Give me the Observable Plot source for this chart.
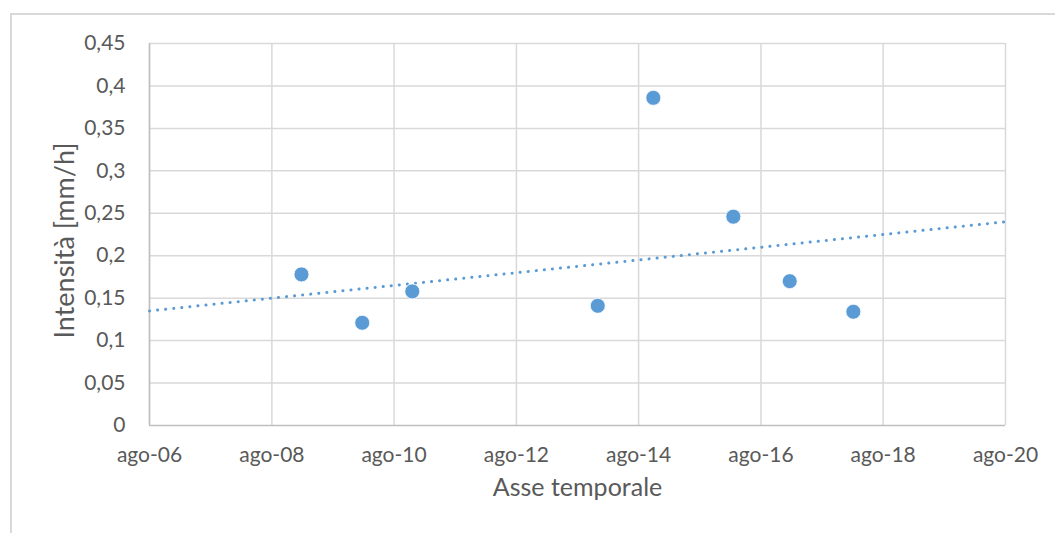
<!DOCTYPE html>
<html>
<head>
<meta charset="utf-8">
<script src="https://cdn.jsdelivr.net/npm/d3@7"></script>
<script src="https://cdn.jsdelivr.net/npm/@observablehq/plot@0.6"></script>
<style>
  html, body { margin: 0; padding: 0; background: #fff; }
  #wrap { position: relative; width: 1055px; height: 533px; overflow: hidden; }
  #border { position: absolute; left: 10px; top: 13px; width: 1060px; height: 560px; border: 2px solid #d9d9d9; box-sizing: border-box; }
  #chart { position: absolute; left: 0; top: 0; }
</style>
</head>
<body>
<div id="wrap"><div id="border"></div><div id="chart"></div></div>
<script>
// Observations (date of event, intensity mm/h)
const dates = ["2009-01-25", "2010-01-23", "2010-11-18", "2013-11-30", "2014-10-28", "2016-02-18", "2017-01-20", "2018-02-04"];
const intensities = [0.178, 0.121, 0.158, 0.141, 0.386, 0.246, 0.170, 0.134];

// Trend line endpoints
const trendDates = ["2006-08-01", "2020-08-01"];
const trendValues = [0.135, 0.240];

// Axis ticks
const xTickDates = ["2006-08-01", "2008-08-01", "2010-08-01", "2012-08-01", "2014-08-01", "2016-08-01", "2018-08-01", "2020-08-01"];
const xTickLabels = ["ago-06", "ago-08", "ago-10", "ago-12", "ago-14", "ago-16", "ago-18", "ago-20"];
const yTicks = [0, 0.05, 0.1, 0.15, 0.2, 0.25, 0.3, 0.35, 0.4, 0.45];
const yTickLabels = ["0", "0,05", "0,1", "0,15", "0,2", "0,25", "0,3", "0,35", "0,4", "0,45"];

const points = dates.map((d, i) => ({date: new Date(d), value: intensities[i]}));
const trend = trendDates.map((d, i) => ({date: new Date(d), value: trendValues[i]}));
const xTicks = xTickDates.map(d => new Date(d));
const xLabelOf = new Map(xTicks.map((d, i) => [+d, xTickLabels[i]]));
const yLabelOf = new Map(yTicks.map((v, i) => [v, yTickLabels[i]]));

const font = "Lato, 'Open Sans', sans-serif";
const textColor = "#595959";

const chart = Plot.plot({
  width: 1055,
  height: 533,
  marginLeft: 149,
  marginRight: 50,
  marginTop: 43,
  marginBottom: 108,
  style: {fontFamily: font, fontSize: "21px", color: textColor, background: "transparent"},
  x: {type: "time", domain: [xTicks[0], xTicks[xTicks.length - 1]]},
  y: {domain: [0, 0.45]},
  marks: [
    Plot.gridX(xTicks, {stroke: "#d9d9d9", strokeOpacity: 1, strokeWidth: 1.5}),
    Plot.gridY(yTicks.slice(1), {stroke: "#d9d9d9", strokeOpacity: 1, strokeWidth: 1.5}),
    Plot.ruleY([0], {stroke: "#bfbfbf", strokeWidth: 1.5}),
    Plot.ruleX([xTicks[0]], {stroke: "#bfbfbf", strokeWidth: 1.5}),
    Plot.axisX(xTicks, {tickSize: 0, tickPadding: 22, tickFormat: d => xLabelOf.get(+d), label: null, fill: textColor, fontSize: 21}),
    Plot.axisY(yTicks, {tickSize: 0, tickPadding: 24, tickFormat: v => yLabelOf.get(v), label: null, fill: textColor, fontSize: 21}),
    Plot.line(trend, {x: "date", y: "value", stroke: "#5b9bd5", strokeWidth: 3, strokeDasharray: "0.1 8", strokeLinecap: "round"}),
    Plot.dot(points, {x: "date", y: "value", r: 7.5, fill: "#5b9bd5", stroke: "white", strokeWidth: 0.8}),
    Plot.text(["Intensità [mm/h]"], {frameAnchor: "left", textAnchor: "middle", dx: -84, dy: 6, rotate: -90, fill: textColor, fontSize: 27, text: d => d}),
    Plot.text(["Asse temporale"], {frameAnchor: "bottom", textAnchor: "middle", dy: 70, fill: textColor, fontSize: 25, text: d => d})
  ]
});
document.getElementById("chart").appendChild(chart);
</script>
</body>
</html>
